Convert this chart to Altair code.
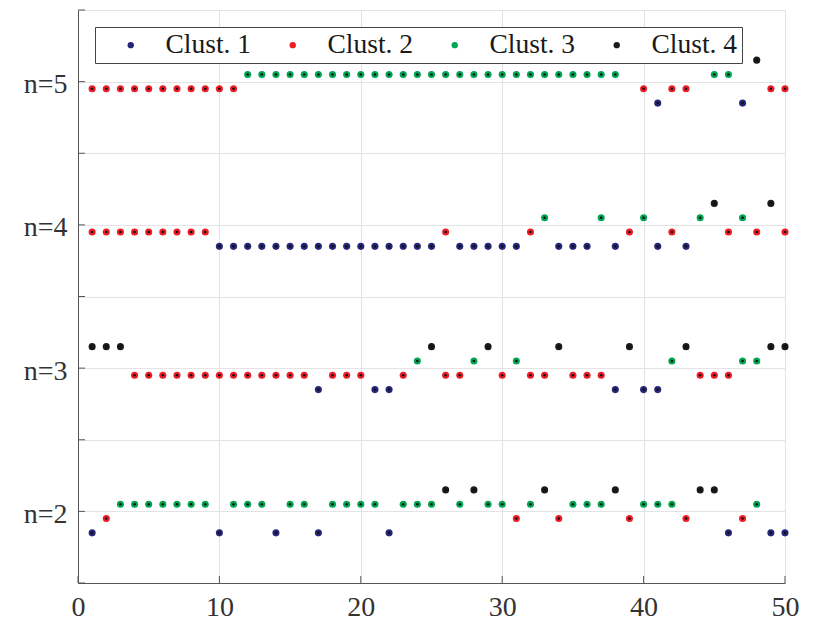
import altair as alt
import pandas as pd

x_vals = list(range(1, 51))
n_levels = [2, 3, 4, 5]
cluster_names = ["Clust. 1", "Clust. 2", "Clust. 3", "Clust. 4"]
cluster_colors = ["#25257a", "#ee1c25", "#00a651", "#1a1a1a"]

# cluster id (1..4) for each x, per n level
clust_n2 = [1, 2, 3, 3, 3, 3, 3, 3, 3, 1,
            3, 3, 3, 1, 3, 3, 1, 3, 3, 3,
            3, 1, 3, 3, 3, 4, 3, 4, 3, 3,
            2, 3, 4, 2, 3, 3, 3, 4, 2, 3,
            3, 3, 2, 4, 4, 1, 2, 3, 1, 1]
clust_n3 = [4, 4, 4, 2, 2, 2, 2, 2, 2, 2,
            2, 2, 2, 2, 2, 2, 1, 2, 2, 2,
            1, 1, 2, 3, 4, 2, 2, 3, 4, 2,
            3, 2, 2, 4, 2, 2, 2, 1, 4, 1,
            1, 3, 4, 2, 2, 2, 3, 3, 4, 4]
clust_n4 = [2, 2, 2, 2, 2, 2, 2, 2, 2, 1,
            1, 1, 1, 1, 1, 1, 1, 1, 1, 1,
            1, 1, 1, 1, 1, 2, 1, 1, 1, 1,
            1, 2, 3, 1, 1, 1, 3, 1, 2, 3,
            1, 2, 1, 3, 4, 2, 3, 2, 4, 2]
clust_n5 = [2, 2, 2, 2, 2, 2, 2, 2, 2, 2,
            2, 3, 3, 3, 3, 3, 3, 3, 3, 3,
            3, 3, 3, 3, 3, 3, 3, 3, 3, 3,
            3, 3, 3, 3, 3, 3, 3, 3, 4, 2,
            1, 2, 2, 4, 3, 3, 1, 4, 2, 2]

x_ticks = [0, 10, 20, 30, 40, 50]
y_ticks = [1.5, 2, 2.5, 3, 3.5, 4, 4.5, 5, 5.5]

rows = []
for n, cl in zip(n_levels, [clust_n2, clust_n3, clust_n4, clust_n5]):
    for x, c in zip(x_vals, cl):
        rows.append({"x": x, "n": n, "cid": c, "cluster": cluster_names[c - 1]})
df = pd.DataFrame(rows)

W, H = 707, 573
FONT = "Liberation Serif, DejaVu Serif, serif"

base = alt.Chart(df).transform_calculate(
    yy="datum.n + (datum.cid - 2.5) * 0.1"
)

xenc = alt.X("x:Q", scale=alt.Scale(domain=[0, 50], nice=False),
             axis=alt.Axis(values=x_ticks, title=None, ticks=False,
                           labelFont=FONT, labelFontSize=28, labelColor="#333333",
                           labelPadding=10, domainColor="#555555",
                           gridColor="#e3e3e3", labelFlush=False))
yenc = alt.Y("yy:Q", scale=alt.Scale(domain=[1.5, 5.5], nice=False, zero=False),
             axis=alt.Axis(values=y_ticks, title=None, ticks=False,
                           labelExpr="datum.value % 1 == 0 ? 'n=' + datum.value : ''",
                           labelFont=FONT, labelFontSize=28, labelColor="#333333",
                           labelPadding=11, labelOffset=3, domainColor="#555555",
                           gridColor="#e3e3e3"))

pts = base.mark_circle(size=50, opacity=1).encode(
    x=xenc, y=yenc,
    color=alt.Color("cluster:N",
                    scale=alt.Scale(domain=cluster_names, range=cluster_colors),
                    legend=alt.Legend(title=None, orient="none", legendX=17, legendY=17,
                                      direction="horizontal", columns=4,
                                      symbolType="circle", symbolSize=40,
                                      labelFont=FONT, labelFontSize=27.5,
                                      labelColor="#1a1a1a",
                                      fillColor="white", strokeColor="#444444",
                                      padding=4, symbolOffset=18, labelOffset=21,
                                      columnPadding=9)),
)
centers = base.mark_circle(size=7, opacity=1, color="#111111").encode(
    x="x:Q", y="yy:Q"
)

xt = pd.DataFrame({"xt": x_ticks})
yt = pd.DataFrame({"yt": y_ticks})
xtick_marks = alt.Chart(xt).mark_rule(color="#555555", strokeWidth=1).encode(
    x="xt:Q", y=alt.value(H), y2=alt.value(H - 7))
ytick_marks = alt.Chart(yt).mark_rule(color="#555555", strokeWidth=1).encode(
    y="yt:Q", x=alt.value(0), x2=alt.value(7))

chart = alt.layer(xtick_marks, ytick_marks, pts, centers).properties(
    width=W, height=H,
    autosize=alt.AutoSizeParams(type="none"),
    padding={"left": 70, "top": 2, "right": 20, "bottom": 40},
).configure_view(stroke="#e3e3e3", strokeWidth=1)

chart.save("out.html", embed_options={"renderer": "svg", "actions": False})
